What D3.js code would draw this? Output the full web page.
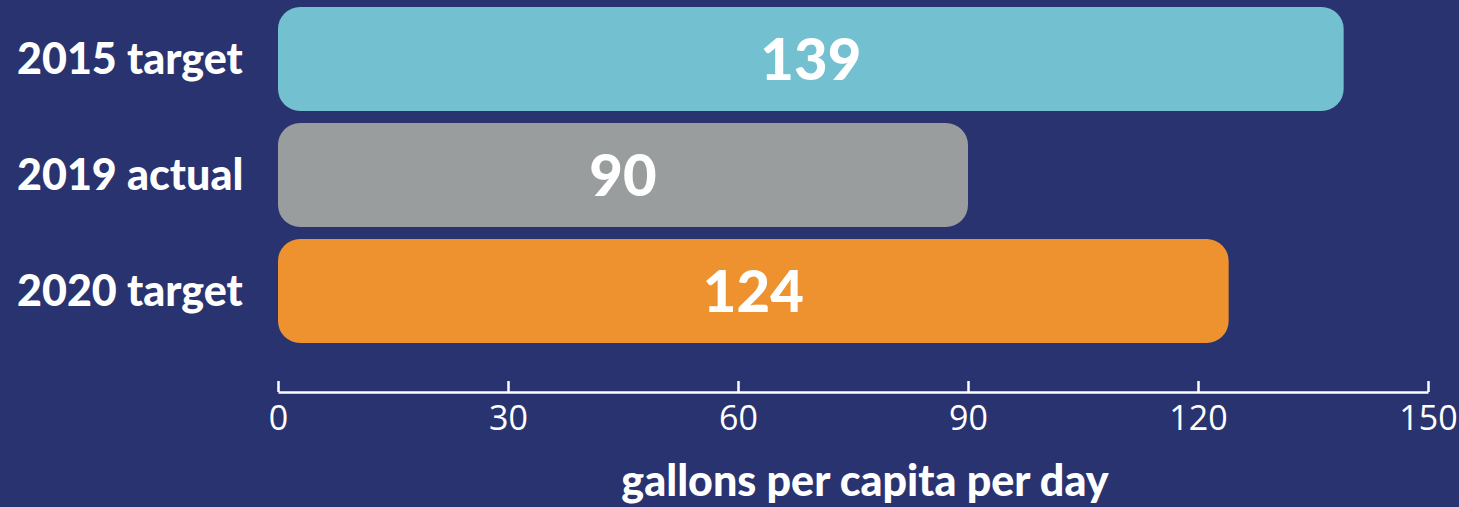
<!DOCTYPE html>
<html><head><meta charset="utf-8">
<script src="https://cdn.jsdelivr.net/npm/d3@7"></script>
<style>html,body{margin:0;padding:0;background:#29336f;}svg{display:block;}</style>
</head><body>
<svg id="chart" width="1459" height="507"></svg>
<script>
const categories = ["2015 target", "2019 actual", "2020 target"];
const values = [139, 90, 124];
const colors = ["#72c0d0", "#999d9e", "#ee9230"];
const tickValues = [0, 30, 60, 90, 120, 150];
const axisTitle = "gallons per capita per day";

const svg = d3.select("#chart");
svg.append("rect").attr("width", 1459).attr("height", 507).attr("fill", "#29336f");

const x = d3.scaleLinear().domain([0, 150]).range([278, 1428]);
const y = d3.scaleBand().domain(categories).range([7, 343]).paddingInner(0.1034).paddingOuter(0);

svg.selectAll("rect.bar").data(categories).join("rect")
  .attr("class", "bar")
  .attr("x", x(0))
  .attr("y", d => y(d))
  .attr("width", (d, i) => x(values[i]) - x(0))
  .attr("height", y.bandwidth())
  .attr("rx", 22).attr("ry", 22)
  .attr("fill", (d, i) => colors[i]);

svg.selectAll("text.val").data(categories).join("text")
  .attr("class", "val")
  .attr("x", (d, i) => (x(0) + x(values[i])) / 2)
  .attr("y", d => y(d) + y.bandwidth() / 2 + 21)
  .attr("text-anchor", "middle")
  .attr("fill", "#fff")
  .style("font-family", "Lato, 'Open Sans', sans-serif")
  .style("font-weight", 900)
  .style("font-size", "58px")
  .text((d, i) => values[i]);

svg.selectAll("text.cat").data(categories).join("text")
  .attr("class", "cat")
  .attr("x", 17)
  .attr("y", d => y(d) + y.bandwidth() / 2 + 15)
  .attr("fill", "#fff")
  .style("font-family", "Lato, 'Open Sans', sans-serif")
  .style("font-weight", 900)
  .style("font-size", "43px")
  .text(d => d);

const axis = d3.axisTop(x).tickValues(tickValues).tickSize(11).tickSizeOuter(0).tickFormat(d3.format("d"));
const g = svg.append("g").attr("transform", "translate(0,392)").call(axis);
g.select(".domain").attr("stroke", "#fff").attr("stroke-width", 2.5);
g.selectAll(".tick line").attr("stroke", "#fff").attr("stroke-width", 2.5);
g.selectAll(".tick text")
  .attr("y", 38).attr("dy", 0)
  .attr("fill", "#fff")
  .style("font-family", "'Open Sans', sans-serif")
  .style("font-weight", 400)
  .style("font-size", "34px");

svg.append("text")
  .attr("x", 865).attr("y", 496)
  .attr("text-anchor", "middle")
  .attr("fill", "#fff")
  .style("font-family", "Lato, 'Open Sans', sans-serif")
  .style("font-weight", 900)
  .style("font-size", "43px")
  .text(axisTitle);
</script>
</body></html>
